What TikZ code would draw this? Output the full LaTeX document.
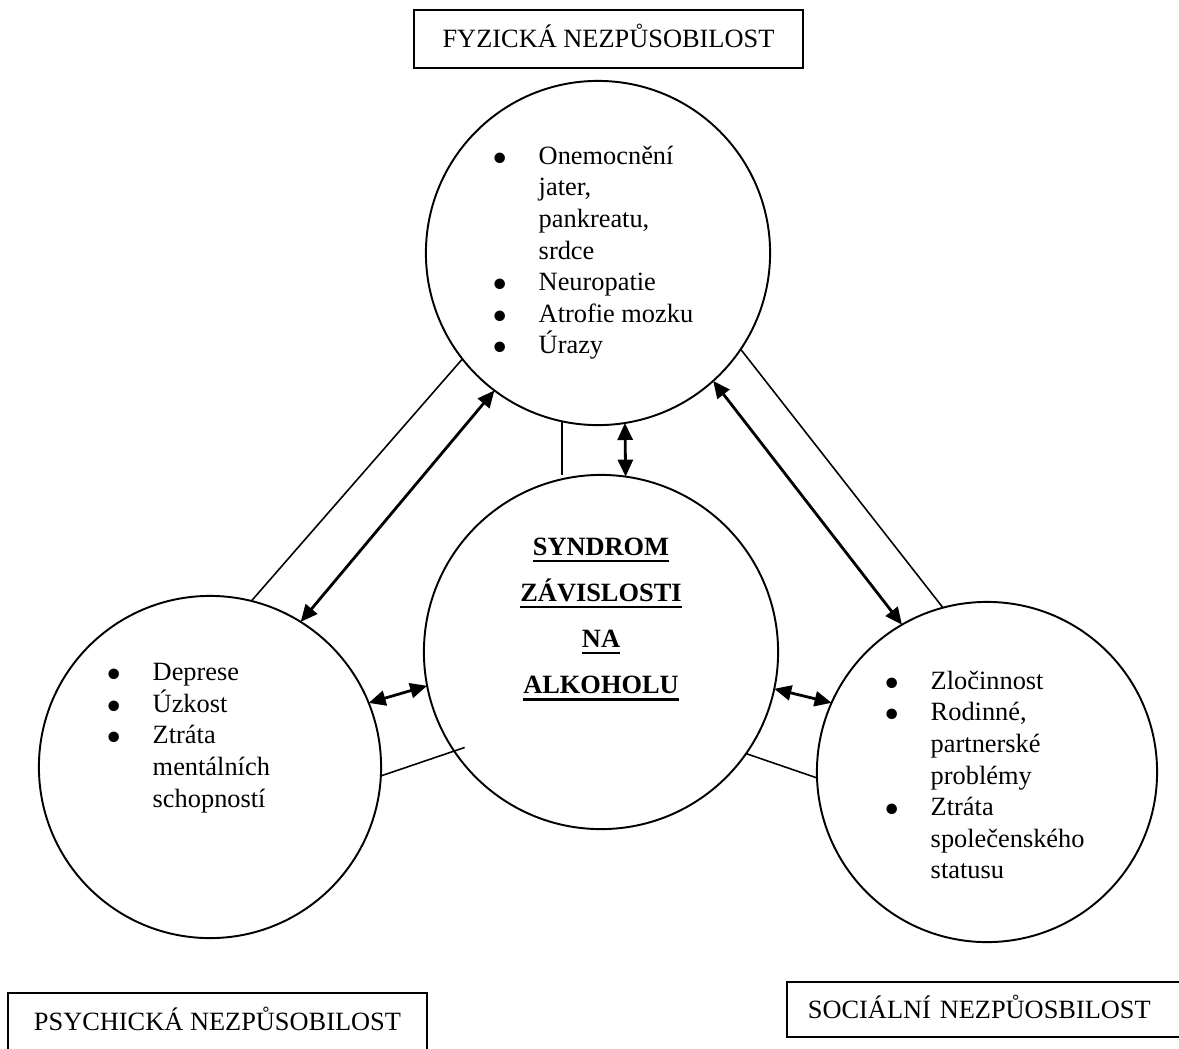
\documentclass[tikz,border=0pt]{standalone}
\usepackage{fontspec}
\setmainfont{Liberation Serif}
\usetikzlibrary{calc, arrows.meta}

\newcommand{\itm}{\makebox[0.46cm][l]{$\bullet$}}
\newcommand{\gap}{\hspace*{0.46cm}}
\newcommand{\ubar}[1]{\setbox0\hbox{#1}\rlap{\copy0}\rule[-1.9pt]{\wd0}{0.75pt}}

\tikzset{
  sphere/.style={draw, circle, line width=0.55pt, inner sep=0pt, outer sep=0pt},
  plain/.style={line width=0.45pt},
  link/.style={line width=0.8pt, {Triangle[length=0.17cm,width=0.15cm]}-{Triangle[length=0.17cm,width=0.15cm]}},
  items/.style={anchor=north west, inner sep=0pt, align=left, font=\fontsize{7.5}{9}\selectfont},
  area/.style={draw, line width=0.5pt, inner ysep=0pt, inner xsep=0.21cm, text height=0.175cm, text depth=0pt, font=\fontsize{7.5}{9}\selectfont}
}

\begin{document}
\begin{tikzpicture}[x=0.01cm, y=-0.01cm]
\clip (0,0) rectangle (1179,1048);
% circles
\node[sphere, minimum size=3.44cm] (T) at (598,253) {};
\node[sphere, minimum size=3.54cm] (M) at (601,652) {};
\node[sphere, minimum size=3.42cm] (L) at (210,767) {};
\node[sphere, minimum size=3.40cm] (R) at (987,772) {};

% boxes
\node[area, minimum width=3.89cm, minimum height=0.58cm] (fyz) at (608.5,39) {FYZICKÁ NEZPŮSOBILOST};
\node[area, minimum width=4.19cm, minimum height=0.58cm] (psy) at (217.5,1022) {PSYCHICKÁ NEZPŮSOBILOST};
\node[area, anchor=west, minimum height=0.55cm, text width=3.68cm, align=left] (soc) at (786,1009.5) {SOCIÁLNÍ NEZPŮOSBILOST};

% texts
\node[items] (fyzlist) at (492,145) {\itm Onemocnění\\ \gap jater,\\ \gap pankreatu,\\ \gap srdce\\ \itm Neuropatie\\ \itm Atrofie mozku\\ \itm Úrazy};
\node[items] (psylist) at (106,662.5) {\itm Deprese\\ \itm Úzkost\\ \itm Ztráta\\ \gap mentálních\\ \gap schopností};
\node[items] (soclist) at (884,670) {\itm Zločinnost\\ \itm Rodinné,\\ \gap partnerské\\ \gap problémy\\ \itm Ztráta\\ \gap společenského\\ \gap statusu};
\node[anchor=north, inner sep=0pt, align=center, font=\fontsize{7.5}{13.1}\selectfont\bfseries] (syn) at (601,537.5)
  {\ubar{SYNDROM}\\ \ubar{ZÁVISLOSTI}\\ \ubar{NA}\\ \ubar{ALKOHOLU}};

% links
\draw[plain] (T.218) -- (L.76);
\draw[link] (T.233) -- (L.58);
\draw[plain] (T.258) -- (T.258 |- M.north);
\draw[link] (T.279) -- (M.82);
\draw[link] (T.312) -- (R.120);
\draw[plain] (T.326) -- (R.105);
\draw[link] (L.22) -- (M.191);
\draw[plain] (L.357) -- ($(M.center)!0.94!(M.215)$);
\draw[link] (M.348) -- (R.156);
\draw[plain] (M.325) -- (R.182);
\end{tikzpicture}
\end{document}
